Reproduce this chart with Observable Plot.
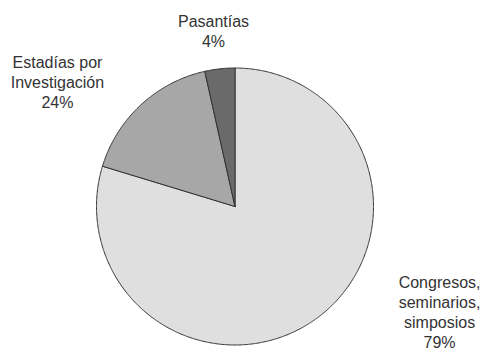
<!DOCTYPE html>
<html>
<head>
<meta charset="utf-8">
<script src="https://cdn.jsdelivr.net/npm/d3@7"></script>
<script src="https://cdn.jsdelivr.net/npm/@observablehq/plot@0.6"></script>
<style>
  html, body { margin: 0; padding: 0; background: #fff; }
  svg { display: block; }
</style>
</head>
<body>
<div id="chart"></div>
<script>
// Data (slices clockwise from 12 o'clock)
const categories = ["Congresos,\nseminarios,\nsimposios", "Estadías por\nInvestigación", "Pasantías"];
const values = [79.7, 16.8, 3.5];          // slice sizes as drawn
const percentLabels = ["79%", "24%", "4%"]; // labels as printed
const sliceColors = ["#dfdfdf", "#a7a7a7", "#6a6a6a"];

// label anchor positions in data units (pie radius = 1)
const labelPos = [[1.477, -0.762], [-1.282, 0.903], [-0.155, 1.271]];

const arcs = d3.pie().sort(null).value(d => d)(values);
const pts = [];
arcs.forEach((a, i) => {
  const name = categories[i];
  pts.push({name, x: 0, y: 0});
  const n = Math.max(2, Math.ceil((a.endAngle - a.startAngle) / (Math.PI / 360)));
  for (let k = 0; k <= n; k++) {
    const t = a.startAngle + (a.endAngle - a.startAngle) * k / n;
    pts.push({name, x: Math.sin(t), y: Math.cos(t)});
  }
  pts.push({name, x: 0, y: 0});
});

const labels = categories.map((c, i) => ({
  text: c + "\n" + percentLabels[i],
  x: labelPos[i][0],
  y: labelPos[i][1]
}));

const chart = Plot.plot({
  width: 482,
  height: 353,
  marginLeft: 96,
  marginRight: 109,
  marginTop: 67.5,
  marginBottom: 8.5,
  x: {domain: [-1, 1], axis: null},
  y: {domain: [-1, 1], axis: null},
  color: {domain: categories, range: sliceColors},
  style: {fontFamily: "Liberation Sans, Arial, sans-serif", background: "#fff"},
  marks: [
    Plot.line(pts, {x: "x", y: "y", z: "name", fill: "name", stroke: "#333", strokeWidth: 1, curve: "linear"}),
    Plot.text(labels, {x: "x", y: "y", text: "text", fontSize: 16, lineHeight: 1.25, fill: "#333", textAnchor: "middle", lineAnchor: "middle", clip: false})
  ]
});
document.getElementById("chart").appendChild(chart);
</script>
</body>
</html>
